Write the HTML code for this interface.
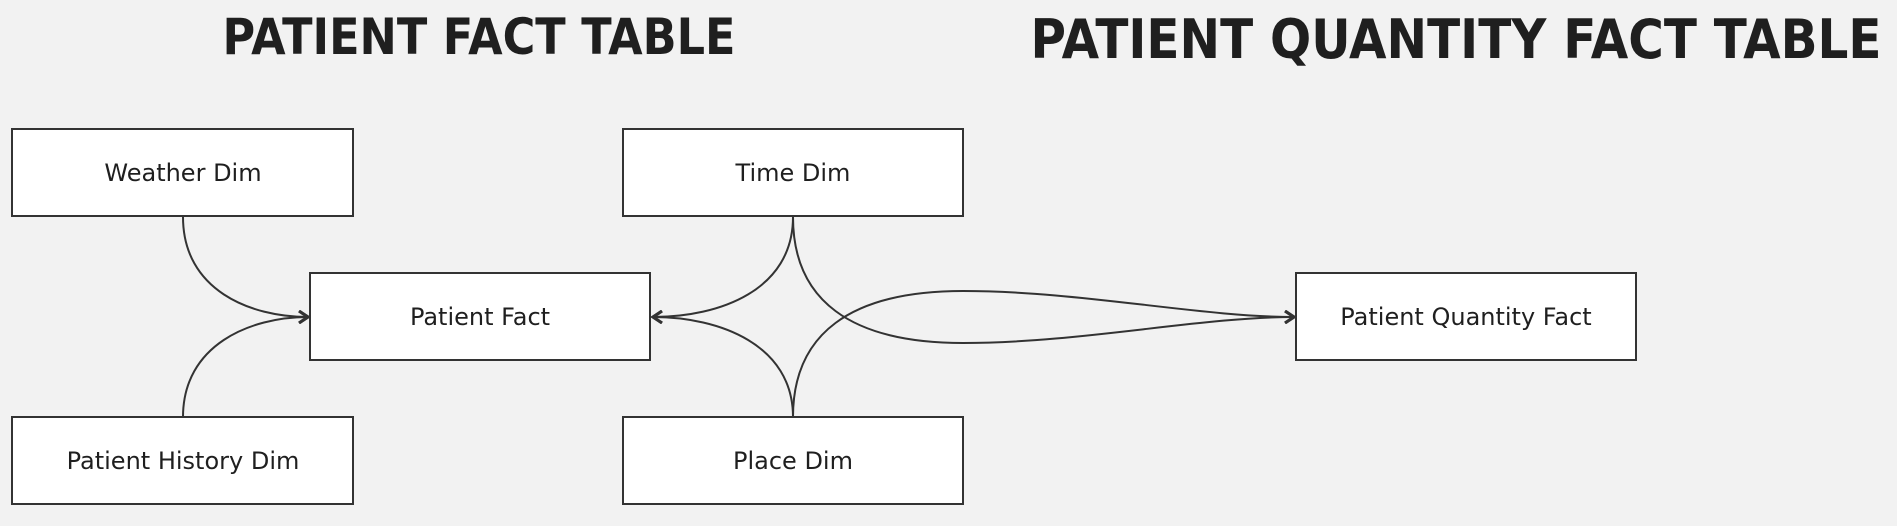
<!DOCTYPE html>
<html><head><meta charset="utf-8"><style>
html,body{margin:0;padding:0;background:#f2f2f2;}
svg{display:block;}
text{font-family:"DejaVu Sans","Liberation Sans",sans-serif;fill:#1f1f1f;}
.t{font-family:"DejaVu Sans","Liberation Sans",sans-serif;font-weight:bold;fill:#1f1f1f;}
rect{fill:#fff;stroke:#333;stroke-width:2;}
path.e{fill:none;stroke:#333;stroke-width:2;}
</style></head><body>
<svg width="1897" height="526" viewBox="0 0 1897 526" xmlns="http://www.w3.org/2000/svg">
<defs>
<marker id="a" markerWidth="12" markerHeight="14" refX="10" refY="7" orient="auto" markerUnits="userSpaceOnUse">
<path d="M1,1 L10,7 L1,13" fill="none" stroke="#333" stroke-width="3"/>
</marker>
</defs>
<text class="t" x="479" y="54" font-size="50" text-anchor="middle" textLength="513" lengthAdjust="spacingAndGlyphs">PATIENT FACT TABLE</text>
<text class="t" x="1456" y="58" font-size="54" text-anchor="middle" textLength="851" lengthAdjust="spacingAndGlyphs">PATIENT QUANTITY FACT TABLE</text>

<path class="e" d="M183,217 C183,290 250,317 308,317" marker-end="url(#a)"/>
<path class="e" d="M183,417 C183,345 250,317 308,317" marker-end="url(#a)"/>
<path class="e" d="M793,217 C793,290 720,317 653,317" marker-end="url(#a)"/>
<path class="e" d="M793,417 C793,345 720,317 653,317" marker-end="url(#a)"/>
<path class="e" d="M793,217 C793,300 850,343 963,343 C1080,343 1200,317 1294,317" marker-end="url(#a)"/>
<path class="e" d="M793,417 C793,334 850,291 963,291 C1080,291 1200,317 1294,317" marker-end="url(#a)"/>

<rect x="12" y="129" width="341" height="87"/>
<text x="183" y="181" font-size="24" text-anchor="middle">Weather Dim</text>
<rect x="623" y="129" width="340" height="87"/>
<text x="793" y="181" font-size="24" text-anchor="middle">Time Dim</text>
<rect x="310" y="273" width="340" height="87"/>
<text x="480" y="325" font-size="24" text-anchor="middle">Patient Fact</text>
<rect x="1296" y="273" width="340" height="87"/>
<text x="1466" y="325" font-size="24" text-anchor="middle">Patient Quantity Fact</text>
<rect x="12" y="417" width="341" height="87"/>
<text x="183" y="469" font-size="24" text-anchor="middle">Patient History Dim</text>
<rect x="623" y="417" width="340" height="87"/>
<text x="793" y="469" font-size="24" text-anchor="middle">Place Dim</text>
</svg>
</body></html>
